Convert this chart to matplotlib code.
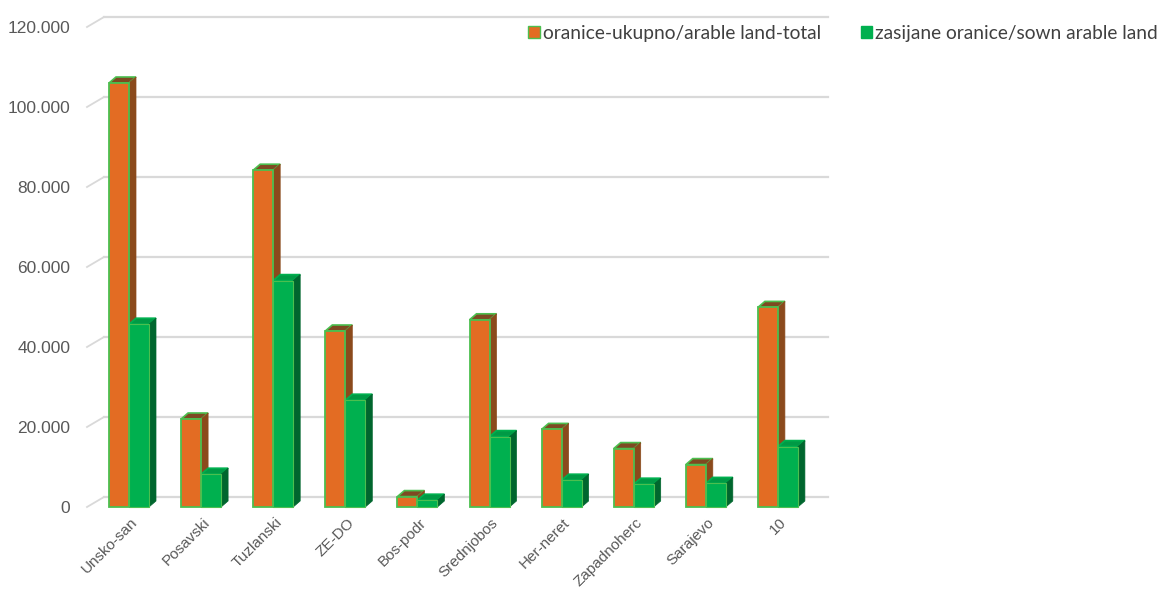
import numpy as np
import matplotlib
matplotlib.use('Agg')
import matplotlib.pyplot as plt
from matplotlib.patches import Polygon, Patch

# podaci (procjena sa slike)
regije = ['Unsko-san', 'Posavski', 'Tuzlanski', 'ZE-DO', 'Bos-podr', 'Srednjobos',
          'Her-neret', 'Zapadnoherc', 'Sarajevo', '10']
oranice_ukupno = [106000, 22000, 84200, 44000, 2600, 46800, 19400, 14600, 10600, 49900]
zasijane = [45700, 8200, 56600, 26700, 1700, 17600, 6700, 5700, 5900, 15100]
yticks = [0, 20000, 40000, 60000, 80000, 100000, 120000]

naziv_1 = 'oranice-ukupno/arable land-total'
naziv_2 = 'zasijane oranice/sown arable land'

# boje
c_or, c_or_side, c_or_top = '#E36C23', '#8B4A1C', '#7E4A22'
c_gr, c_gr_side, c_gr_top = '#00B04F', '#00662E', '#009A45'
c_edge = '#4CBF4F'
c_grid = '#D9D9D9'
c_txt = '#595959'

font_ax = ['Liberation Sans', 'DejaVu Sans']

fig = plt.figure(figsize=(11.62, 5.89), dpi=100)
ax = fig.add_axes([87 / 1162, 82 / 589, 724 / 1162, 480 / 589])

px_x = 72.1            # pikseli po kategoriji
px_y = 480 / 120000    # pikseli po jedinici
ax.set_xlim(-42 / px_x, 682 / px_x)
ax.set_ylim(0, 120000)

# "3D" zadnji zid: mreza pomaknuta gore-desno
wall_dx, wall_dy = 17 / px_x, 10 / px_y
xl, xr = ax.get_xlim()
for v in yticks:
    ax.plot([xl, xl + wall_dx], [v, v + wall_dy], color=c_grid, lw=1.3, clip_on=False, zorder=1)
    ax.plot([xl + wall_dx, xr + wall_dx], [v + wall_dy, v + wall_dy], color=c_grid, lw=1.6,
            clip_on=False, zorder=1)

# dubina stupaca
w = 20 / px_x
bdx, bdy = 7 / px_x, 6 / px_y
x = np.arange(len(regije))


def stupac(x0, h, front, side, top, edge):
    # gornja ploha i bocna ploha, pa prednja (ax.bar)
    ax.add_patch(Polygon([(x0, h), (x0 + bdx, h + bdy), (x0 + w + bdx, h + bdy), (x0 + w, h)],
                         closed=True, facecolor=top, edgecolor=edge, lw=1.2, zorder=3, clip_on=False))
    ax.add_patch(Polygon([(x0 + w, 0), (x0 + w + bdx, bdy), (x0 + w + bdx, h + bdy), (x0 + w, h)],
                         closed=True, facecolor=side, edgecolor=side, lw=0.5, zorder=3, clip_on=False))


for i in x:
    stupac(i - w, oranice_ukupno[i], c_or, c_or_side, c_or_top, c_edge)
    ax.bar(i - w, oranice_ukupno[i], width=w, align='edge', color=c_or, edgecolor=c_edge,
           lw=1.3, zorder=4, clip_on=False)
    stupac(i, zasijane[i], c_gr, c_gr_side, c_gr_top, c_gr)
    ax.bar(i, zasijane[i], width=w, align='edge', color=c_gr, edgecolor=c_edge,
           lw=0.8, zorder=4, clip_on=False)

for s in ax.spines.values():
    s.set_visible(False)

ax.set_yticks(yticks)
ax.set_yticklabels([f'{v:,}'.replace(',', '.') for v in yticks], fontsize=12.5,
                   family=font_ax, color=c_txt)
ax.tick_params(axis='y', length=0, pad=12)

ax.set_xticks(x + 0.02)
ax.set_xticklabels(regije, rotation=45, ha='right', va='top', rotation_mode='anchor',
                   fontsize=11, family=font_ax, color=c_txt)
ax.tick_params(axis='x', length=0, pad=6)

handles = [Patch(facecolor=c_or, edgecolor=c_edge, lw=1),
           Patch(facecolor=c_gr, edgecolor=c_gr, lw=1)]
fig.legend(handles, [naziv_1, naziv_2], ncol=2, loc='center left',
           bbox_to_anchor=(511 / 1162, 1 - 33 / 589), frameon=False,
           handlelength=0.6, handleheight=0.6, handletextpad=0.15, columnspacing=2.1,
           prop={'family': ['Lato', 'DejaVu Sans'], 'size': 13.8}, labelcolor='#404040')

fig.savefig('out.png', dpi=100)
